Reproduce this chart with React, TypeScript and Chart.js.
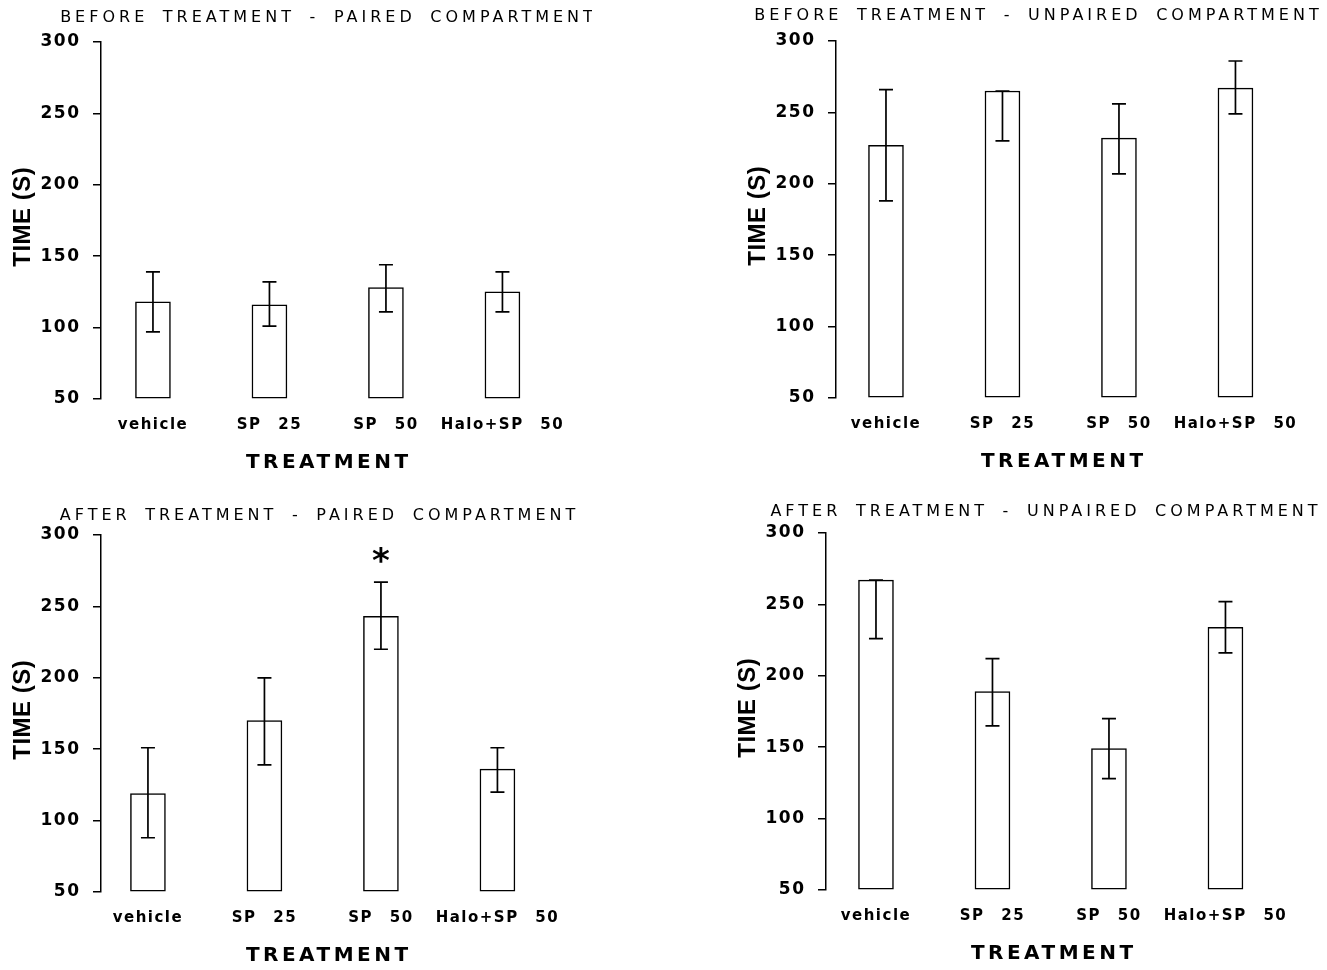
import React, { useEffect, useRef } from "react";
import { Chart, registerables } from "chart.js";

Chart.register(...registerables);

// ---------- data ----------
const categories = ["vehicle", "SP 25", "SP 50", "Halo+SP 50"];
const yTickValues = [50, 100, 150, 200, 250, 300];

const beforePairedMean = [118, 116, 128, 125];
const beforePairedLow = [97, 101, 111, 111];
const beforePairedHigh = [139, 132, 144, 139];

const beforeUnpairedMean = [227, 265, 232, 267];
const beforeUnpairedLow = [188, 230, 207, 249];
const beforeUnpairedHigh = [266, 265, 256, 286];

const afterPairedMean = [119, 170, 243, 136];
const afterPairedLow = [88, 139, 220, 120];
const afterPairedHigh = [151, 200, 267, 151];
const afterPairedSig = ["", "", "*", ""];

const afterUnpairedMean = [267, 189, 149, 234];
const afterUnpairedLow = [226, 165, 128, 216];
const afterUnpairedHigh = [267, 212, 170, 252];

const noSig = ["", "", "", ""];

// ---------- layout / style ----------
const WIDE = "'DejaVu Sans', 'Liberation Sans', Arial, sans-serif";
const NARROW = "'Liberation Sans', Arial, Helvetica, sans-serif";
const CANVAS_H = 485;
const AREA_LEFT = 101;
const AREA_RIGHT = 553;
const AREA_TOP = 42;
const AREA_BOTTOM = 399;
const X_RANGE = 3.88;
const Y_MIN = 50;

type PanelCfg = {
  title: string;
  mean: number[];
  low: number[];
  high: number[];
  sig: string[];
  left: number;
  top: number;
  width: number;
  titleX: number;
  titleY: number;
  xMin: number;
};

const panels: PanelCfg[] = [
  {
    title: "BEFORE TREATMENT - PAIRED COMPARTMENT",
    mean: beforePairedMean, low: beforePairedLow, high: beforePairedHigh, sig: noSig,
    left: 0, top: 0, width: 592, titleX: 326.5, titleY: 18, xMin: 0.554,
  },
  {
    title: "BEFORE TREATMENT - UNPAIRED COMPARTMENT",
    mean: beforeUnpairedMean, low: beforeUnpairedLow, high: beforeUnpairedHigh, sig: noSig,
    left: 735, top: -1, width: 592, titleX: 301.5, titleY: 17, xMin: 0.571,
  },
  {
    title: "AFTER TREATMENT - PAIRED COMPARTMENT",
    mean: afterPairedMean, low: afterPairedLow, high: afterPairedHigh, sig: afterPairedSig,
    left: 0, top: 493, width: 592, titleX: 317.5, titleY: 23, xMin: 0.597,
  },
  {
    title: "AFTER TREATMENT - UNPAIRED COMPARTMENT",
    mean: afterUnpairedMean, low: afterUnpairedLow, high: afterUnpairedHigh, sig: noSig,
    left: 725, top: 491, width: 602, titleX: 319, titleY: 21, xMin: 0.571,
  },
];

function Panel({ cfg }: { cfg: PanelCfg }) {
  const ref = useRef<HTMLCanvasElement>(null);

  useEffect(() => {
    const canvas = ref.current;
    if (!canvas) return;

    const spacingPlugin = {
      id: "spacing",
      beforeDraw(chart: any) {
        const ctx = chart.ctx as any;
        ctx.letterSpacing = "1.5px";
        ctx.wordSpacing = "10px";
      },
    };

    const errorBarPlugin = {
      id: "errorBars",
      afterDatasetsDraw(chart: any) {
        const ctx = chart.ctx as any;
        const meta = chart.getDatasetMeta(0);
        const y = chart.scales.y;
        ctx.save();
        ctx.strokeStyle = "#000";
        ctx.lineWidth = 1.7;
        meta.data.forEach((bar: any, i: number) => {
          const lo = y.getPixelForValue(cfg.low[i]);
          const hi = y.getPixelForValue(cfg.high[i]);
          const cap = 7;
          ctx.beginPath();
          ctx.moveTo(bar.x, lo);
          ctx.lineTo(bar.x, hi);
          ctx.moveTo(bar.x - cap, lo);
          ctx.lineTo(bar.x + cap, lo);
          ctx.moveTo(bar.x - cap, hi);
          ctx.lineTo(bar.x + cap, hi);
          ctx.stroke();
        });
        ctx.restore();
      },
    };

    const textPlugin = {
      id: "texts",
      afterDraw(chart: any) {
        const ctx = chart.ctx as any;
        const area = chart.chartArea;
        const y = chart.scales.y;
        const meta = chart.getDatasetMeta(0);
        ctx.save();
        ctx.fillStyle = "#000";
        ctx.textAlign = "center";
        ctx.textBaseline = "middle";

        // panel title
        ctx.font = `16px ${WIDE}`;
        ctx.letterSpacing = "4px";
        ctx.wordSpacing = "5.5px";
        ctx.fillText(cfg.title, cfg.titleX + 2, cfg.titleY);

        // x axis title
        ctx.font = `bold 20px ${WIDE}`;
        ctx.letterSpacing = "3.5px";
        ctx.wordSpacing = "0px";
        ctx.fillText("TREATMENT", (area.left + area.right) / 2 + 1.75, area.bottom + 64);

        // significance marks
        ctx.font = `bold 34px ${WIDE}`;
        ctx.letterSpacing = "0px";
        ctx.textBaseline = "alphabetic";
        meta.data.forEach((bar: any, i: number) => {
          const s = cfg.sig[i];
          if (!s) return;
          const hi = y.getPixelForValue(cfg.high[i]);
          ctx.fillText(s, bar.x, hi - 29 + 19);
        });

        // y axis title
        ctx.textBaseline = "middle";
        ctx.font = `bold 24px ${NARROW}`;
        ctx.letterSpacing = "0.5px";
        ctx.translate(area.left - 77.5, (area.top + area.bottom) / 2 - 3.5);
        ctx.rotate(-Math.PI / 2);
        ctx.fillText("TIME (S)", 0.25, 0);
        ctx.restore();
      },
    };

    const chart = new Chart(canvas, {
      type: "bar",
      data: {
        datasets: [
          {
            data: cfg.mean.map((v, i) => ({ x: i + 1, y: v })),
            base: Y_MIN,
            backgroundColor: "#ffffff",
            borderColor: "#000000",
            borderWidth: 1.5,
            borderSkipped: false,
            barThickness: 35,
          } as any,
        ],
      },
      options: {
        animation: false,
        responsive: false,
        devicePixelRatio: 1,
        layout: {
          padding: { top: AREA_TOP, left: 0, right: cfg.width - AREA_RIGHT, bottom: 0 },
        },
        plugins: {
          legend: { display: false },
          tooltip: { enabled: false },
          title: { display: false },
        },
        scales: {
          x: {
            type: "linear",
            min: cfg.xMin,
            max: cfg.xMin + X_RANGE,
            offset: false,
            afterBuildTicks: (s: any) => {
              s.ticks = categories.map((_, i) => ({ value: i + 1 }));
            },
            afterFit: (s: any) => {
              s.height = CANVAS_H - AREA_BOTTOM;
            },
            grid: { display: false, drawTicks: false },
            border: { display: false },
            ticks: {
              color: "#000",
              padding: 17,
              autoSkip: false,
              maxRotation: 0,
              font: { family: WIDE, size: 15, weight: "bold" },
              callback: (v: any) => categories[Math.round(Number(v)) - 1] ?? "",
            },
          },
          y: {
            min: Y_MIN,
            max: 300,
            afterBuildTicks: (s: any) => {
              s.ticks = yTickValues.map((v) => ({ value: v }));
            },
            afterFit: (s: any) => {
              s.width = AREA_LEFT;
            },
            grid: {
              drawOnChartArea: false,
              drawTicks: true,
              tickLength: 8,
              color: "#000",
              lineWidth: 1.5,
            },
            border: { display: true, color: "#000", width: 1.5 },
            ticks: {
              color: "#000",
              padding: 12.5,
              font: { family: WIDE, size: 17, weight: "bold" },
            },
          },
        },
      } as any,
      plugins: [spacingPlugin, errorBarPlugin, textPlugin],
    });

    return () => chart.destroy();
  }, [cfg]);

  return (
    <canvas
      ref={ref}
      width={cfg.width}
      height={CANVAS_H}
      style={{ position: "absolute", left: cfg.left, top: cfg.top, width: cfg.width, height: CANVAS_H }}
    />
  );
}

export default function App() {
  return (
    <div
      style={{
        position: "absolute",
        left: 0,
        top: 0,
        width: 1327,
        height: 970,
        overflow: "hidden",
        background: "#ffffff",
      }}
    >
      {panels.map((p, i) => (
        <Panel key={i} cfg={p} />
      ))}
    </div>
  );
}
